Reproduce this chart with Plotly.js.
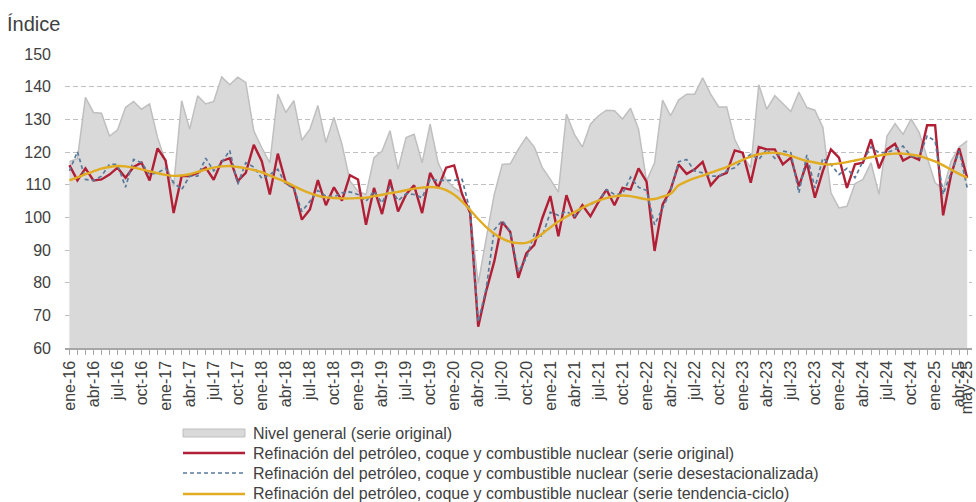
<!DOCTYPE html>
<html>
<head>
<meta charset="utf-8">
<script src="https://cdn.plot.ly/plotly-3.0.1.min.js"></script>
<style>html,body{margin:0;padding:0;background:#fff;}#chart{width:976px;height:502px;}</style>
</head>
<body>
<div id="chart"></div>
<script>
const meses = [
 'ene-16','feb-16','mar-16','abr-16','may-16','jun-16','jul-16','ago-16','sep-16','oct-16','nov-16','dic-16',
 'ene-17','feb-17','mar-17','abr-17','may-17','jun-17','jul-17','ago-17','sep-17','oct-17','nov-17','dic-17',
 'ene-18','feb-18','mar-18','abr-18','may-18','jun-18','jul-18','ago-18','sep-18','oct-18','nov-18','dic-18',
 'ene-19','feb-19','mar-19','abr-19','may-19','jun-19','jul-19','ago-19','sep-19','oct-19','nov-19','dic-19',
 'ene-20','feb-20','mar-20','abr-20','may-20','jun-20','jul-20','ago-20','sep-20','oct-20','nov-20','dic-20',
 'ene-21','feb-21','mar-21','abr-21','may-21','jun-21','jul-21','ago-21','sep-21','oct-21','nov-21','dic-21',
 'ene-22','feb-22','mar-22','abr-22','may-22','jun-22','jul-22','ago-22','sep-22','oct-22','nov-22','dic-22',
 'ene-23','feb-23','mar-23','abr-23','may-23','jun-23','jul-23','ago-23','sep-23','oct-23','nov-23','dic-23',
 'ene-24','feb-24','mar-24','abr-24','may-24','jun-24','jul-24','ago-24','sep-24','oct-24','nov-24','dic-24',
 'ene-25','feb-25','mar-25','abr-25','may-25'
];

const etiquetas = [
 'ene-16','abr-16','jul-16','oct-16','ene-17','abr-17','jul-17','oct-17','ene-18','abr-18','jul-18','oct-18',
 'ene-19','abr-19','jul-19','oct-19','ene-20','abr-20','jul-20','oct-20','ene-21','abr-21','jul-21','oct-21',
 'ene-22','abr-22','jul-22','oct-22','ene-23','abr-23','jul-23','oct-23','ene-24','abr-24','jul-24','oct-24',
 'ene-25','abr-25','may-25'
];

const nivelGeneral = [
 117,118,136.7,132.1,131.9,124.9,126.7,133.6,135.5,133.1,134.7,124.4,
 117,109.5,135.7,127,137.2,134.7,135.5,143,140.6,142.9,141.3,126.5,
 121.3,116.7,137.7,132.1,135.7,123.6,127,134.2,122.9,130.6,122.4,111.1,
 108,107,118.3,120.3,126.5,114.7,124.4,125.4,116.7,128.5,116.7,111.5,
 109,107.5,101.3,79.8,93.6,107,116.2,116.4,120.8,124.6,121.5,115.2,
 111.6,107.7,131.6,125.4,121.5,128.5,131.1,132.8,132.6,130.1,133.4,127,
 111.1,116.7,135.9,131.1,135.9,137.7,137.7,142.7,137.7,133.8,133.8,123.9,
 118.8,115.2,140.6,133.1,137.2,134.7,132.4,138.3,133.6,132.8,127.5,107.5,
 102.9,103.4,110.3,111.6,116.7,107,124.9,128.7,125.4,130.1,126,118.3,
 110.6,108.5,117.2,121.5,123.4
];

const refOriginal = [
 116,111.3,115,111.3,111.6,113.1,115.2,112.1,115.4,116.7,111.3,121.1,
 117.4,101.3,112.6,112.6,113.6,115.2,111.5,117.2,118.1,111.1,113.6,122.2,
 117.2,107,119.5,110.6,109,99.3,102.4,111.4,103.7,109.2,105.1,112.9,
 111.6,97.7,109,101,111.6,101.8,107,109.8,101.3,113.6,109,115.2,
 115.9,107,101.3,66.5,77.5,86.5,98.6,95.5,81.5,89,91.6,99.8,
 106.5,94.2,106.8,99.8,103.7,100.3,104.7,108.5,103.7,109,108.5,115,
 110.9,89.7,103.9,108.5,116.2,113.3,114.7,117,109.8,112.6,113.6,120.5,
 119.8,110.6,121.5,120.8,120.8,116.2,118.3,109.5,116.7,106,114.2,120.8,
 118.3,109,116.2,116.7,123.9,115,120.8,122.5,117.4,118.7,117.6,128.2,
 128.2,100.6,113.1,121.1,112.1
];

const refDesestacionalizada = [
 114.2,120.1,111.6,111.3,112.6,116.2,116.2,109.2,117.7,116.7,113.1,113.6,
 115,110.6,108.5,112.6,112.6,118.1,114.2,116.7,120.5,110.1,116.7,115.4,
 111.9,113.1,114.7,110.1,109,101.8,104.9,108.2,106.5,106.2,107.5,107.8,
 107,104.9,108,104.4,109.5,105.1,107.2,107,106,111.6,111.3,111.3,
 111.3,111.6,101.8,68,78.3,96.2,99,95.7,83.4,87.5,94.9,94.2,
 101.6,100.6,101.8,100.3,102.9,103.9,105.1,108.5,107,107.2,112.3,109.2,
 108.2,97.7,103,108,117,117.7,114.2,113.6,112.6,112.6,114.2,115.2,
 117.4,119.3,117.7,120.8,118.1,120.3,119.8,107.5,119.1,109,118.1,116.2,
 113.1,115,112.1,117.2,121.5,119.8,119.8,120.8,121.8,118.7,118.3,124.9,
 123.4,107,113.6,120.3,109
];

const refTendencia = [
 111.3,112.2,113.2,114.1,114.9,115.4,115.7,115.6,115.2,114.7,114.1,113.5,
 113.0,112.7,112.8,113.2,113.9,114.6,115.2,115.6,115.7,115.4,115.0,114.5,
 113.8,112.8,111.8,110.8,109.6,108.4,107.4,106.6,106.1,105.9,105.8,105.8,
 105.9,106.0,106.5,106.9,107.4,107.8,108.3,108.8,109.1,109.3,109.1,108.3,
 106.9,104.8,102.2,99.5,97.0,95.0,93.5,92.5,92.1,92.2,93.3,95.0,
 96.9,98.7,100.2,101.6,102.9,104.1,105.1,105.9,106.4,106.7,106.5,106.0,
 105.5,105.6,106.3,107.2,109.8,111.0,112.0,112.8,113.7,114.5,115.4,116.5,
 117.6,118.6,119.3,119.7,119.8,119.4,118.8,118.0,117.3,116.8,116.3,116.2,
 116.5,116.9,117.4,117.9,118.4,118.9,119.3,119.5,119.5,119.2,118.8,118.0,
 117.1,115.9,114.6,113.3,112.1
];

const nombres = [
 'Nivel general (serie original)',
 'Refinación del petróleo, coque y combustible nuclear (serie original)',
 'Refinación del petróleo, coque y combustible nuclear (serie desestacionalizada)',
 'Refinación del petróleo, coque y combustible nuclear (serie tendencia-ciclo)'
];

const FONT = 'Liberation Sans, Arial, sans-serif';
const TXT = '#404040';
const W = 976, H = 502;
const M = {l: 65, r: 4, t: 54, b: 154};
const PW = W - M.l - M.r, PH = H - M.t - M.b;
const px = x => (x - M.l) / PW;
const py = y => (H - M.b - y) / PH;

const traces = [
 {x: meses, y: nivelGeneral, name: nombres[0], type: 'scatter', mode: 'lines',
  fill: 'tozeroy', fillcolor: '#d9d9d9', line: {color: '#bfbfbf', width: 1.5}},
 {x: meses, y: refOriginal, name: nombres[1], type: 'scatter', mode: 'lines',
  line: {color: '#b01f35', width: 2.4}},
 {x: meses, y: refDesestacionalizada, name: nombres[2], type: 'scatter', mode: 'lines',
  line: {color: '#5a7a9a', width: 1.7, dash: '4px,3px'}},
 {x: meses, y: refTendencia, name: nombres[3], type: 'scatter', mode: 'lines',
  line: {color: '#e2ac22', width: 2.4, shape: 'spline', smoothing: 0.8}}
];

const ticktext = meses.map(m => etiquetas.includes(m) ? m : '');

// custom legend (symbols + text)
const rows = [433, 453, 473, 494];
const symX0 = 183, symX1 = 245, txtX = 251;
const shapes = [
 {type: 'rect', xref: 'paper', yref: 'paper', x0: px(symX0), x1: px(symX1), y0: py(rows[0] + 4), y1: py(rows[0] - 4),
  fillcolor: '#d9d9d9', line: {color: '#bfbfbf', width: 1}},
 {type: 'line', xref: 'paper', yref: 'paper', x0: px(symX0), x1: px(symX1), y0: py(rows[1]), y1: py(rows[1]),
  line: {color: traces[1].line.color, width: 2.4}},
 {type: 'line', xref: 'paper', yref: 'paper', x0: px(symX0), x1: px(symX1), y0: py(rows[2]), y1: py(rows[2]),
  line: {color: traces[2].line.color, width: 1.7, dash: '4px,3px'}},
 {type: 'line', xref: 'paper', yref: 'paper', x0: px(symX0), x1: px(symX1), y0: py(rows[3]), y1: py(rows[3]),
  line: {color: traces[3].line.color, width: 2.4}}
];
const annotations = nombres.map((n, k) => ({
 xref: 'paper', yref: 'paper', x: px(txtX), y: py(rows[k]), xanchor: 'left', yanchor: 'middle',
 text: n, showarrow: false, font: {family: FONT, size: 16, color: TXT}
}));

const layout = {
 width: W, height: H,
 margin: M,
 paper_bgcolor: '#fff', plot_bgcolor: '#fff',
 showlegend: false,
 title: {text: 'Índice', x: 7 / W, xanchor: 'left', xref: 'container', y: 1 - 24 / H, yanchor: 'middle', yref: 'container',
  font: {family: FONT, size: 20, color: TXT}},
 xaxis: {
  type: 'category', range: [-0.55, 112.6],
  tickmode: 'array', tickvals: meses, ticktext: ticktext, tickangle: -90,
  ticks: 'outside', ticklen: 5, tickcolor: '#a6a6a6', tickwidth: 1,
  showline: true, linecolor: '#a6a6a6', linewidth: 1.5,
  showgrid: false, zeroline: false,
  tickfont: {family: FONT, size: 16, color: TXT}
 },
 yaxis: {
  range: [60, 150], dtick: 10, tick0: 60,
  showgrid: true, gridcolor: '#bfbfbf', gridwidth: 1, griddash: '5px,3px',
  zeroline: false, showline: false, ticks: '', ticklabelstandoff: 13,
  tickfont: {family: FONT, size: 16, color: TXT}
 },
 shapes: shapes,
 annotations: annotations
};

Plotly.newPlot('chart', traces, layout, {displayModeBar: false, staticPlot: true});
</script>
</body>
</html>
